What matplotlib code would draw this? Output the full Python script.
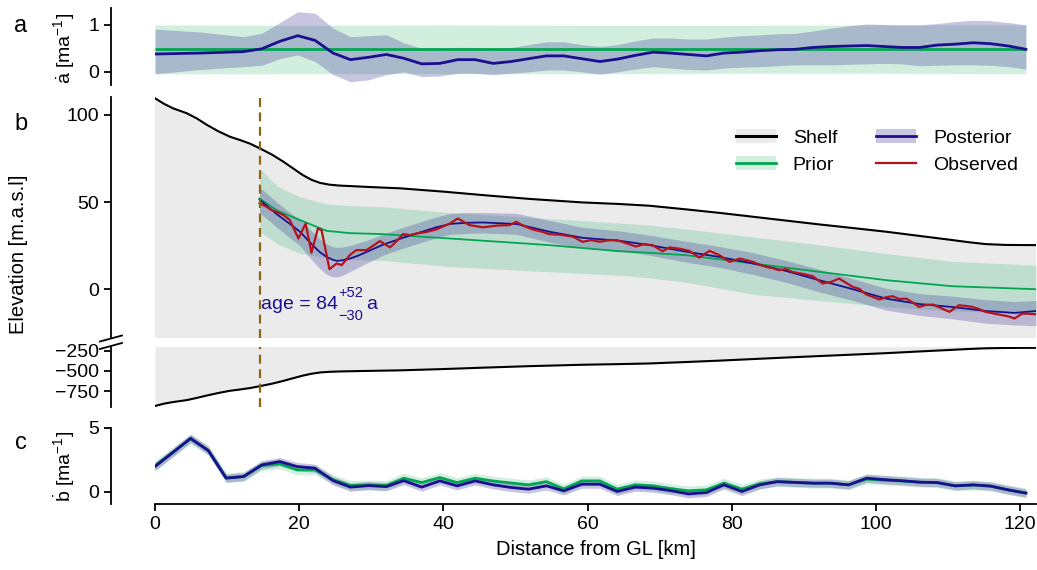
import numpy as np
import matplotlib
matplotlib.use('Agg')
import matplotlib.pyplot as plt
from matplotlib.patches import Patch
from matplotlib.lines import Line2D

plt.rcParams['font.family'] = ['Liberation Sans', 'DejaVu Sans']
plt.rcParams['mathtext.fontset'] = 'custom'
plt.rcParams['mathtext.rm'] = 'Liberation Sans'
plt.rcParams['mathtext.it'] = 'Liberation Sans'
plt.rcParams['mathtext.bf'] = 'Liberation Sans:bold'

# ---------------- data ----------------
# panel a: accumulation rate
a_x = [0, 6.2, 12.2, 14.8, 17.3, 19.8, 22.2, 24.7, 27.1, 29.6, 32.1, 34.5, 37, 39.5, 42, 44.4,
       46.9, 49.4, 51.8, 54.3, 56.7, 59.2, 61.7, 64.1, 66.6, 69.1, 71.5, 74, 76.5, 78.9, 81.4,
       83.9, 86.3, 88.8, 91.3, 93.7, 96.2, 98.7, 101.1, 103.6, 106.1, 108.5, 111, 113.5, 115.9,
       118.4, 120.8]
post_a_mean = [0.38, 0.40, 0.43, 0.49, 0.65, 0.77, 0.67, 0.40, 0.26, 0.31, 0.37, 0.29, 0.17,
               0.18, 0.26, 0.26, 0.18, 0.22, 0.28, 0.34, 0.34, 0.28, 0.22, 0.27, 0.35, 0.42,
               0.40, 0.37, 0.34, 0.40, 0.42, 0.45, 0.47, 0.48, 0.52, 0.54, 0.55, 0.56, 0.54,
               0.52, 0.52, 0.57, 0.59, 0.62, 0.60, 0.55, 0.48]
post_a_hi = [0.91, 0.85, 0.75, 0.82, 1.05, 1.28, 1.25, 0.93, 0.75, 0.77, 0.79, 0.62, 0.50,
             0.50, 0.52, 0.52, 0.50, 0.52, 0.58, 0.64, 0.64, 0.58, 0.54, 0.58, 0.66, 0.72,
             0.72, 0.70, 0.70, 0.74, 0.77, 0.79, 0.81, 0.82, 0.87, 0.93, 0.98, 1.02, 1.01,
             1.00, 1.00, 1.03, 1.07, 1.10, 1.09, 1.05, 1.00]
post_a_lo = [-0.04, 0.05, 0.11, 0.14, 0.28, 0.36, 0.22, -0.06, -0.21, -0.17, -0.06, 0.00,
             -0.10, -0.09, -0.03, -0.03, -0.06, -0.03, 0.00, 0.04, 0.04, 0.00, -0.05, 0.00,
             0.06, 0.11, 0.08, 0.05, 0.04, 0.08, 0.10, 0.11, 0.13, 0.15, 0.15, 0.15, 0.16,
             0.17, 0.18, 0.17, 0.13, 0.14, 0.15, 0.15, 0.14, 0.11, 0.06]
prior_a_mean = 0.48
prior_a_x = [0, 20, 40, 60, 80, 100, 120.8]
prior_a_hi = [1.00, 0.99, 1.00, 0.99, 0.99, 1.00, 1.00]
prior_a_lo = [-0.04, -0.04, -0.04, -0.04, -0.03, -0.03, -0.04]

# panel b: shelf geometry and surface elevation
shelf_x = [0, 1.2, 2.5, 4.4, 5.8, 7.2, 8.8, 10.4, 11.8, 13.2, 14.5, 16.2, 17.8, 19.2, 20.5,
           21.7, 22.9, 24.2, 25.5, 27, 30, 34, 40, 45.5, 52, 59.3, 64.4, 68.6, 73.7, 78.3,
           82.9, 87.5, 92.1, 96.8, 101.4, 106, 110.6, 113, 115.2, 118, 122.2]
shelf_surf = [109.6, 106.5, 103.8, 101, 98, 94.3, 90.6, 87.5, 85.6, 83.5, 80.9, 77.3, 73.2,
              69.2, 65.5, 62.8, 61.0, 60.0, 59.5, 59.2, 58.6, 57.9, 56.0, 54, 51.8, 49.8,
              48.9, 47.9, 45.8, 43.8, 41.6, 39.4, 37.2, 35.1, 33, 30.6, 28.2, 26.9, 25.9,
              25.4, 25.3]
shelf_base = [-933, -905, -884, -860, -833, -803, -772, -745, -729, -711, -689, -658, -623,
              -589, -558, -535, -519, -511, -507, -504, -499, -493, -477, -460, -441, -424,
              -416, -408, -390, -373, -354, -335, -317, -299, -281, -260, -240, -229, -221,
              -217, -215]

prior_b_x = [14.5, 17, 20.1, 23.8, 27, 31.6, 40.9, 54.7, 64.4, 68.6, 73.7, 82.9, 92.1, 101.4,
             110.6, 122.2]
prior_b_mean = [52, 45, 39.7, 33.5, 32.2, 31.6, 29.1, 25.3, 21.8, 20.9, 19.5, 14.8, 10, 5.2,
                1.7, 0]
prior_b_hi = [69.5, 59, 53, 49, 48, 47.3, 44, 40.5, 38, 36.8, 34.5, 30, 25.5, 20.5, 16, 13.8]
prior_b_lo = [33, 26, 20.5, 18, 17, 16.5, 13, 10, 8, 6.5, 4, -2.9, -6.5, -10, -12.5, -14]

post_b_x = [14.5, 16.9, 18.7, 20.1, 21.7, 22.8, 23.8, 24.6, 25.2, 26, 27, 28.2, 29.4, 31.6,
            34.4, 36.3, 39, 41, 43.2, 45.5, 50.2, 54.7, 59.3, 64.4, 68.6, 73.7, 78.3, 82.9,
            87.5, 92.1, 96.8, 101.4, 106, 110.6, 115.2, 119.2, 122.2]
post_b_mean = [51.5, 43, 37.5, 33, 26, 21.5, 18.5, 17, 16.3, 16.6, 17.5, 19.3, 21.5, 25.5,
               29.5, 32, 35.5, 37.5, 38.1, 38.3, 37.4, 33, 29.5, 27.8, 25.3, 21.5, 18.5,
               14.8, 10.5, 5.2, 0, -5.4, -8.5, -10.2, -12.5, -13.6, -12.5]
post_b_hi = [58.5, 50, 44, 40, 33.5, 29, 26, 24.5, 24, 24.2, 25, 26.5, 28, 31.5, 35.5, 38,
             41.5, 43.5, 44, 44, 43.5, 39.5, 35.5, 33.5, 31, 27.5, 24.5, 21, 16.5, 11.5, 6,
             0.5, -2.5, -4, -6, -7, -6.5]
post_b_lo = [44, 35.5, 29.5, 25, 17, 12, 8.5, 7.2, 7, 8, 10, 12.5, 15, 19.5, 23.5, 26, 29.5,
             31.5, 32, 32.3, 31.5, 27, 23.5, 22, 19.5, 15.5, 12.5, 8.5, 4, -1.5, -6.5, -12,
             -15, -17, -19.5, -20.5, -21]

obs_x = [14.5, 15.4, 16.2, 16.9, 17.8, 18.7, 19.9, 20.9, 21.7, 22.6, 23.1, 24.2, 25.2, 25.9,
         27, 27.9, 29.3, 30.2, 31.2, 32.6, 33.5, 34.4, 35.4, 36.3, 37.6, 39, 40.9, 42,
         43.6, 44.5, 45.5, 47.4, 49.2, 50.1, 51.2, 52.4, 53.5, 54.7, 56.3, 58, 59.3, 60.5,
         61.7, 62.8, 64, 65.3, 66.7, 67.8, 69, 70.4, 71.4, 72.8, 74.1, 75.5, 76.9, 78.3,
         79.7, 81.1, 82.9, 83.8, 84.8, 85.7, 86.6, 87.5, 88.4, 89.8, 91.2, 92.6, 93.8,
         94.9, 96.8, 97.7, 98.6, 99.5, 100.5, 101.4, 102.3, 103.2, 104.2, 105.1, 106,
         106.9, 107.9, 109, 110.2, 111.5, 112.4, 113.4, 114.3, 115.2, 116.4, 117.5, 118.4,
         119.2, 120.3, 121.2, 122.2]
obs_y = [49.3, 47.5, 45.3, 44.4, 42.6, 39.7, 29.1, 37.7, 20.9, 34.9, 33.9, 11.5, 14.8, 13.8,
         19.5, 22.4, 22.4, 24.8, 27.6, 24, 27.5, 31.6, 31, 32, 32.8, 34.3, 37.7, 40.6,
         36.8, 36.2, 35.5, 36.5, 36.8, 38.7, 36.2, 34.3, 33.2, 31.6, 31.2, 30.1, 27.2,
         28.2, 27.2, 28.0, 28.2, 26.5, 24.5, 25.8, 25.3, 21.8, 24, 23.2, 22, 18.2, 22,
         19.5, 15.7, 17.6, 15.7, 14.2, 12.8, 12.0, 10.9, 11.6, 9.9, 8.8, 7.5, 3.3, 4.2,
         6.1, 1.3, 0.2, -2.9, -4.3, -5.9, -4.6, -4, -5.6, -5.4, -7.6, -10.2, -9.0, -8.8,
         -10.8, -13, -9.2, -9.6, -10.2, -11.4, -13, -14.0, -14.9, -15.6, -16.8, -14, -14.1,
         -14.4]

age_km = 14.55
age_value = '84'
age_plus = '+52'
age_minus = '\u221230'

# panel c: basal melt rate
c_x = [0, 2.47, 4.93, 7.4, 9.87, 12.3, 14.8, 17.3, 19.7, 22.2, 24.7, 27.1, 29.6, 32.1, 34.5,
       37, 39.5, 41.9, 44.4, 46.9, 49.3, 51.8, 54.3, 56.7, 59.2, 61.7, 64.1, 66.6, 69.1,
       71.5, 74, 76.5, 78.9, 81.4, 83.9, 86.3, 88.8, 91.3, 93.7, 96.2, 98.7, 101.1, 103.6,
       106.1, 108.5, 111, 113.5, 115.9, 118.4, 120.8]
post_c = [1.98, 3.08, 4.19, 3.23, 1.07, 1.2, 2.11, 2.37, 1.98, 1.85, 0.88, 0.37, 0.49, 0.41,
          0.88, 0.37, 0.86, 0.47, 0.86, 0.55, 0.35, 0.21, 0.47, 0.08, 0.6, 0.6, 0.03, 0.37,
          0.29, 0.1, -0.16, -0.05, 0.55, 0.03, 0.55, 0.8, 0.74, 0.68, 0.68, 0.55, 1.07,
          0.96, 0.87, 0.76, 0.73, 0.47, 0.55, 0.45, 0.15, -0.1]
prior_c = [2.05, 3.1, 4.15, 3.25, 1.1, 1.2, 2.05, 2.19, 1.72, 1.72, 0.95, 0.5, 0.55, 0.5,
           1.07, 0.73, 1.12, 0.73, 1.07, 0.85, 0.7, 0.55, 0.8, 0.23, 0.86, 0.86, 0.21, 0.55,
           0.47, 0.25, 0.08, 0.16, 0.68, 0.21, 0.63, 0.8, 0.74, 0.68, 0.68, 0.55, 1.0, 0.92,
           0.85, 0.75, 0.72, 0.47, 0.53, 0.45, 0.15, -0.08]
prior_c_hw = 0.38
post_c_hw = 0.32

# ---------------- style ----------------
GREEN = '#00a651'
PURPLE = '#3c3296'
NAVY = '#1b0f8f'
RED = '#b5121b'
GRAY = '#ebebeb'
BROWN = '#8c6414'
XMAX = 122.2
TICK_FS = 14

W, H = 1037, 570
fig = plt.figure(figsize=(W / 100, H / 100), dpi=100)


def ax_at(top, bottom):
    return fig.add_axes([155 / W, 1 - bottom / H, 881 / W, (bottom - top) / H])


def style(ax, show_x=False):
    for s in ['top', 'right']:
        ax.spines[s].set_visible(False)
    ax.spines['left'].set_position(('outward', 31.7))
    ax.spines['left'].set_linewidth(1.3)
    ax.spines['bottom'].set_linewidth(1.3)
    if not show_x:
        ax.spines['bottom'].set_visible(False)
        ax.tick_params(axis='x', bottom=False, labelbottom=False)
    ax.tick_params(labelsize=TICK_FS, width=1.3, length=5)
    ax.set_xlim(0, XMAX)
    ax.patch.set_visible(False)


ax_a = ax_at(8, 85)
ax_b = ax_at(97, 338)
ax_b2 = ax_at(347, 407)
ax_c = ax_at(428, 504)
for ax in (ax_a, ax_b, ax_b2):
    style(ax)
style(ax_c, show_x=True)

# panel a
ax_a.fill_between(prior_a_x, prior_a_lo, prior_a_hi, color=GREEN, alpha=0.18, lw=0)
ax_a.fill_between(a_x, post_a_lo, post_a_hi, color=PURPLE, alpha=0.28, lw=0)
ax_a.hlines(prior_a_mean, a_x[0], a_x[-1], color=GREEN, lw=2)
ax_a.plot(a_x, post_a_mean, color=NAVY, lw=2)
ax_a.set_ylim(-0.28, 1.36)
ax_a.set_yticks([0, 1])

# panel b
for ax in (ax_b, ax_b2):
    ax.fill_between(shelf_x, shelf_base, shelf_surf, color=GRAY, lw=0)
    ax.axvline(age_km, color=BROWN, ls=(0, (4, 2.5)), lw=1.6, zorder=5)
ax_b.plot(shelf_x, shelf_surf, color='k', lw=1.5)
ax_b2.plot(shelf_x, shelf_base, color='k', lw=1.5)
ax_b.fill_between(prior_b_x, prior_b_lo, prior_b_hi, color=GREEN, alpha=0.18, lw=0)
ax_b.fill_between(post_b_x, post_b_lo, post_b_hi, color=PURPLE, alpha=0.28, lw=0)
ax_b.plot(prior_b_x, prior_b_mean, color=GREEN, lw=1.3)
ax_b.plot(post_b_x, post_b_mean, color=NAVY, lw=1.3)
ax_b.plot(obs_x, obs_y, color=RED, lw=1.6)
ax_b.set_ylim(-28, 110.3)
ax_b.set_yticks([0, 50, 100])
ax_b2.set_ylim(-945, -205)
ax_b2.set_yticks([-250, -500, -750])

# age annotation built from pieces (value with stacked +/- errors)
t_main = ax_b.text(age_km + 0.1, -9, 'age = ' + age_value, color=NAVY, fontsize=14,
                   ha='left', va='center')
fig.canvas.draw()
bb = t_main.get_window_extent()
xr = bb.x1 + 1
yc = (bb.y0 + bb.y1) / 2
t_sup = fig.text(xr / W, (yc + 12) / H, age_plus, color=NAVY, fontsize=10.5,
                 ha='left', va='center')
t_sub = fig.text(xr / W, (yc - 11) / H, age_minus, color=NAVY, fontsize=10.5,
                 ha='left', va='center')
fig.canvas.draw()
xend = max(t_sup.get_window_extent().x1, t_sub.get_window_extent().x1)
fig.text((xend + 3) / W, yc / H, 'a', color=NAVY, fontsize=14, ha='left', va='center')

handles = [(Patch(facecolor=GRAY, edgecolor='none'), Line2D([], [], color='k', lw=2.2)),
           (Patch(facecolor=GREEN, alpha=0.18, edgecolor='none'), Line2D([], [], color=GREEN, lw=2)),
           (Patch(facecolor=PURPLE, alpha=0.28, edgecolor='none'), Line2D([], [], color=NAVY, lw=2)),
           Line2D([], [], color=RED, lw=1.6)]
labels = ['Shelf', 'Prior', 'Posterior', 'Observed']
ax_b.legend(handles, labels, ncol=2, frameon=False, fontsize=14,
            loc='upper right', bbox_to_anchor=(1018 / W, 1 - 129 / H),
            bbox_transform=fig.transFigure, borderpad=0, borderaxespad=0,
            handlelength=2.05, handletextpad=0.87, columnspacing=2.0, labelspacing=0.5)

# panel c
ax_c.fill_between(c_x, np.array(prior_c) - prior_c_hw, np.array(prior_c) + prior_c_hw,
                  color=GREEN, alpha=0.18, lw=0)
ax_c.fill_between(c_x, np.array(post_c) - post_c_hw, np.array(post_c) + post_c_hw,
                  color=PURPLE, alpha=0.28, lw=0)
ax_c.plot(c_x, prior_c, color=GREEN, lw=2)
ax_c.plot(c_x, post_c, color=NAVY, lw=2)
ax_c.set_ylim(-0.95, 5)
ax_c.set_yticks([0, 5])
ax_c.set_xticks([0, 20, 40, 60, 80, 100, 120])
ax_c.set_xlabel('Distance from GL [km]', fontsize=14.5, labelpad=5)

# break marks
for y0 in (341.5, 349):
    fig.add_artist(Line2D([100 / W, 122 / W], [1 - y0 / H, 1 - (y0 - 6) / H],
                          color='k', lw=1.3, transform=fig.transFigure))

# labels
fig.text(64 / W, 1 - 48 / H, r'$\dot{\mathrm{a}}$ [ma$^{-1}$]', rotation=90,
         ha='center', va='center', fontsize=14)
fig.text(19 / W, 1 - 254 / H, 'Elevation [m.a.s.l]', rotation=90,
         ha='center', va='center', fontsize=14.5)
fig.text(64 / W, 1 - 466 / H, r'$\dot{\mathrm{b}}$ [ma$^{-1}$]', rotation=90,
         ha='center', va='center', fontsize=14)
for lab, yb in (('a', 32), ('b', 130), ('c', 449)):
    fig.text(21 / W, 1 - yb / H, lab, ha='center', va='baseline', fontsize=17)

fig.savefig('out.png', dpi=100)
